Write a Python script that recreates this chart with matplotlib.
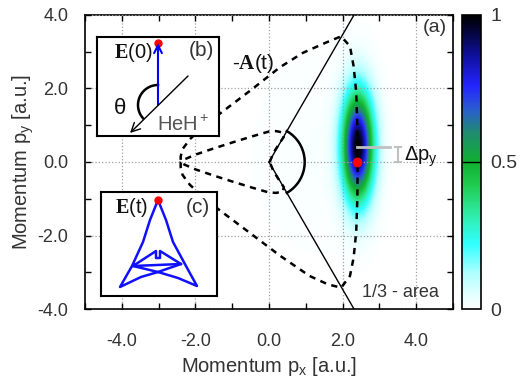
import numpy as np
import matplotlib
matplotlib.use('Agg')
import matplotlib.pyplot as plt
from matplotlib.colors import LinearSegmentedColormap

plt.rcParams['font.family'] = ['Liberation Sans', 'DejaVu Sans']
plt.rcParams['mathtext.fontset'] = 'custom'
plt.rcParams['mathtext.rm'] = 'Liberation Sans'
plt.rcParams['mathtext.it'] = 'Liberation Sans'
plt.rcParams['mathtext.bf'] = 'Liberation Serif:bold'
plt.rcParams['axes.unicode_minus'] = False

# --- data ---
# momentum distribution peak (center, widths) and faint halo
peak_center = (2.42, 0.42)
peak_sigma = (0.29, 1.0)
halo_center = (1.2, 0.2)
halo_sigma = (1.1, 1.8)
halo_amp = 0.012

# -A(t) curve (dashed), a.u.
ax_px = [0.02, 0.12, 0.28, 0.40, 0.38, 0.20, 0.00, -0.45, -1.00, -1.50, -2.00, -2.30, -2.40,
         -2.40, -2.35, -2.15, -1.80, -1.33, -0.52, 0.30, 1.10, 1.60, 1.96,
         2.20, 2.30, 2.37, 2.40, 2.41, 2.40, 2.37, 2.30, 2.20, 1.96,
         1.55, 0.92, 0.30, -0.50, -1.33, -1.80, -2.15, -2.35, -2.40, -2.40,
         -2.30, -2.00, -1.50, -1.00, -0.45, 0.00, 0.20, 0.38, 0.40, 0.28, 0.12, 0.02]
ax_py = [0.00, 0.25, 0.50, 0.68, 0.80, 0.84, 0.83, 0.70, 0.53, 0.37, 0.20, 0.07, 0.00,
         -0.15, -0.35, -0.62, -0.95, -1.32, -1.93, -2.55, -3.10, -3.33, -3.42,
         -3.10, -2.60, -1.90, -1.00, 0.00, 1.00, 1.90, 2.60, 3.15, 3.42,
         3.25, 2.97, 2.58, 1.95, 1.32, 0.95, 0.62, 0.35, 0.15, 0.00,
         -0.07, -0.20, -0.37, -0.53, -0.70, -0.83, -0.84, -0.80, -0.68, -0.50, -0.25, 0.00]

sector_angle = 60.0   # 1/3 area boundaries
arc_radius = 0.97
red_point = (2.39, 0.0)
dpy_level = 0.41

# inset (c) E(t) path in box pixels
et_x = [57, 49, 42, 31, 19, 40, 57, 80, 59, 59, 55, 55, 32, 57, 77, 96, 85, 72, 65, 57]
et_y = [8, 28, 50, 74, 95, 85, 80, 72, 59, 66, 66, 59, 74, 80, 86, 94, 74, 50, 28, 8]

cmap = LinearSegmentedColormap.from_list('mom', [
    (0.0, '#ffffff'), (0.04, '#e8ffff'), (0.12, '#b0ffff'), (0.22, '#30ffff'),
    (0.32, '#30eca8'), (0.42, '#20cc50'), (0.5, '#10b030'), (0.6, '#208c70'),
    (0.68, '#2a5cd0'), (0.76, '#2424ff'), (0.86, '#1010a0'), (0.94, '#050540'),
    (1.0, '#000000')])

fig = plt.figure(figsize=(5.21, 3.85), dpi=100)
ax = fig.add_axes([85/521, 76/385, 368/521, 294/385])

gx = np.linspace(-5, 5, 500)
gy = np.linspace(-4, 4, 400)
X, Y = np.meshgrid(gx, gy)
Z = np.exp(-((X - peak_center[0])/peak_sigma[0])**2/2 - ((Y - peak_center[1])/peak_sigma[1])**2/2)
Z += halo_amp*np.exp(-((X - halo_center[0])/halo_sigma[0])**2/2 - ((Y - halo_center[1])/halo_sigma[1])**2/2)
im = ax.imshow(Z, extent=[-5, 5, -4, 4], origin='lower', cmap=cmap, vmin=0, vmax=1,
               aspect='auto', interpolation='bilinear', zorder=0)

ax.set_xlim(-5, 5)
ax.set_ylim(-4, 4)
ax.set_xticks([-4, -2, 0, 2, 4])
ax.set_yticks([-4, -2, 0, 2, 4])
ax.set_xticks([-5, -3, -1, 1, 3, 5], minor=True)
ax.set_yticks([-3, -1, 1, 3], minor=True)
ax.set_xticklabels(['%.1f' % v for v in [-4, -2, 0, 2, 4]])
ax.set_yticklabels(['%.1f' % v for v in [-4, -2, 0, 2, 4]])
ax.tick_params(which='both', direction='in', top=True, right=True, length=4, width=1,
               labelsize=13, labelcolor='#333333')
ax.tick_params(axis='x', which='both', pad=17)
ax.tick_params(axis='y', which='both', pad=12)
for s in ax.spines.values():
    s.set_linewidth(1.2)
ax.grid(True, which='major', linestyle=':', color='#a0a0a0', linewidth=0.9)
ax.set_axisbelow(False)

ax.set_xlabel('Momentum p$_\\mathrm{x}$ [a.u.]', fontsize=14.5, color='#333333', labelpad=4)
ax.set_ylabel('Momentum p$_\\mathrm{y}$ [a.u.]', fontsize=14.5, color='#333333', labelpad=1)

# -A(t)
ax.plot(ax_px, ax_py, color='k', lw=1.8, dashes=(2.5, 2.2), zorder=3)

# sector lines and arc
t = np.radians(sector_angle)
for sgn in (1, -1):
    ax.plot([0, 4.0/np.tan(t)], [0, sgn*4.0], color='k', lw=1.0, zorder=3)
ang = np.radians(np.linspace(-sector_angle, sector_angle, 80))
ax.plot(arc_radius*np.cos(ang), arc_radius*np.sin(ang), color='k', lw=1.8, zorder=3)

# delta p_y marker
ax.plot([red_point[0], 3.29], [dpy_level, dpy_level], color='#c0c0c0', lw=2, zorder=4)
ax.plot([3.5, 3.5], [0.0, dpy_level], color='#c0c0c0', lw=1.5, zorder=4)
ax.plot([3.42, 3.58], [0.0, 0.0], color='#c0c0c0', lw=1.5, zorder=4)
ax.plot([3.42, 3.58], [dpy_level, dpy_level], color='#c0c0c0', lw=1.5, zorder=4)
ax.plot(*red_point, 'o', color='red', ms=6, zorder=5)

ax.text(3.68, 0.15, '$\\Delta$p$_\\mathrm{y}$', fontsize=14.5, color='#111111', va='center', ha='left', zorder=6)
ax.text(-0.43, 2.69, '-$\\mathbf{A}$(t)', fontsize=15, color='#111111', va='center', ha='center', zorder=6)
ax.text(4.5, 3.65, '(a)', fontsize=14, color='#333333', va='center', ha='center', zorder=6)
ax.text(2.52, -3.54, '1/3 - area', fontsize=13, color='#333333', va='center', ha='left', zorder=6)

# colorbar
cax = fig.add_axes([462/521, 76/385, 19/521, 294/385])
cb = fig.colorbar(im, cax=cax, ticks=[0, 0.5, 1])
cb.ax.set_yticklabels(['0', '0.5', '1'])
cb.ax.tick_params(length=0, labelsize=14, labelcolor='#333333', pad=7)
cb.ax.axhline(0.5, color='k', lw=1)
cb.outline.set_linewidth(1.2)

# inset (b)
bx = fig.add_axes([97/521, (385-136)/385, 122/521, 99/385])
bx.set_xlim(0, 122)
bx.set_ylim(99, 0)
bx.set_xticks([])
bx.set_yticks([])
for s in bx.spines.values():
    s.set_linewidth(1.5)
bx.annotate('', xy=(61, 6), xytext=(61, 68),
            arrowprops=dict(arrowstyle='->', color='blue', lw=1.5, mutation_scale=14, shrinkA=0, shrinkB=0))
bx.annotate('', xy=(33, 96), xytext=(91, 39),
            arrowprops=dict(arrowstyle='->', color='k', lw=1.0, mutation_scale=16, shrinkA=0, shrinkB=0))
bx.plot(61, 6, 'o', color='red', ms=5)
a2 = np.radians(np.linspace(90, 222, 60))
bx.plot(61 + 20*np.cos(a2), 68 - 20*np.sin(a2), color='k', lw=1.8)
bx.text(36, 16, '$\\mathbf{E}$(0)', fontsize=14.5, color='#111111', ha='center', va='center')
bx.text(104, 13, '(b)', fontsize=15, color='#333333', ha='center', va='center')
bx.text(23, 71, 'θ', fontsize=16, color='#111111', ha='center', va='center')
bx.text(86, 88, 'HeH$^+$', fontsize=14.5, color='#555555', ha='center', va='center')

# inset (c)
cx = fig.add_axes([101/521, (385-296)/385, 116/521, 104/385])
cx.set_xlim(0, 116)
cx.set_ylim(104, 0)
cx.set_xticks([])
cx.set_yticks([])
for s in cx.spines.values():
    s.set_linewidth(1.5)
cx.plot(et_x, et_y, color='#1010ff', lw=1.8)
cx.plot([32, 80], [74, 72], color='#1010ff', lw=1.8)
cx.plot(57, 8, 'o', color='red', ms=5)
cx.text(31, 15, '$\\mathbf{E}$(t)', fontsize=14.5, color='#111111', ha='center', va='center')
cx.text(97, 15, '(c)', fontsize=15, color='#333333', ha='center', va='center')

fig.savefig('out.png', dpi=100)
